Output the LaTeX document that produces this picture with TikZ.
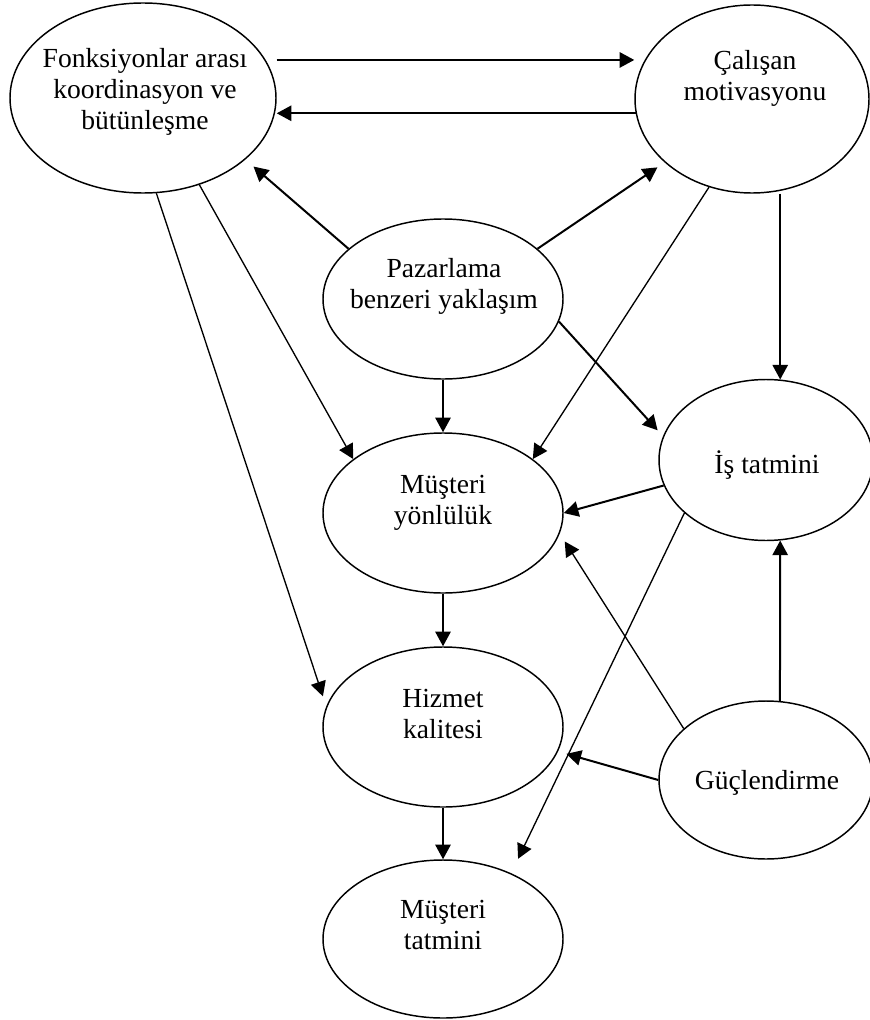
\documentclass[tikz,border=0pt]{standalone}
\usepackage{fontspec}
\setmainfont{Liberation Serif}
\usetikzlibrary{arrows.meta,shapes.geometric}
\begin{document}
\begin{tikzpicture}[x=0.75pt,y=-0.75pt,
  bubble/.style={draw, ellipse, line width=1.1pt, fill=white, inner sep=0pt},
  lbl/.style={align=center, inner sep=0pt, font=\fontsize{20.7}{23.25}\selectfont},
  link/.style={line width=1.5pt, -{Triangle[length=11pt,width=11.5pt]}},
  thinlink/.style={link, line width=1pt},
]
\useasboundingbox (0,0) rectangle (869,1020);

% ellipses
\node[bubble, minimum width=199.5pt, minimum height=142.5pt] (fonk) at (143,98) {};
\node[bubble, minimum width=175.5pt, minimum height=141pt] (cal) at (752,99) {};
\node[bubble, minimum width=180pt, minimum height=120pt] (paz) at (443,299) {};
\node[bubble, minimum width=180pt, minimum height=120pt] (yon) at (443,513) {};
\node[bubble, minimum width=180pt, minimum height=120pt] (hiz) at (443,727) {};
\node[bubble, minimum width=180pt, minimum height=118.5pt] (mt) at (443,939) {};
\node[bubble, minimum width=160.5pt, minimum height=120.75pt] (is) at (766,460) {};
\node[bubble, minimum width=160.5pt, minimum height=118.5pt] (guc) at (766,780) {};

% labels
\node[lbl] (fonkt) at (145,92) {\strut Fonksiyonlar arası\\koordinasyon ve\\bütünleşme\strut};
\node[lbl] (calt) at (755,79) {\strut Çalışan\\motivasyonu\strut};
\node[lbl] (pazt) at (444,287) {\strut Pazarlama\\benzeri yaklaşım\strut};
\node[lbl] (yont) at (443,503) {\strut Müşteri\\yönlülük\strut};
\node[lbl] (hizt) at (443,717) {\strut Hizmet\\kalitesi\strut};
\node[lbl] (mtt) at (443,928) {\strut Müşteri\\tatmini\strut};
\node[lbl] (ist) at (767,467) {\strut İş tatmini};
\node[lbl] (guct) at (767,783) {\strut Güçlendirme};

% connectors
\draw[link] (fonk.east |- cal.160) -- (cal.west |- cal.160);
\draw[link] (cal.187) -- (fonk.east |- cal.187);
\draw[link, shorten >=8pt] (paz.152) -- (fonk.-31.6);
\draw[link, shorten >=6.5pt] (paz.28) -- (cal.216);
\draw[link] (paz.south) -- (yon.north);
\draw[link, shorten >=6pt] (paz.-11) -- (is.167.8);
\draw[thinlink] (cal.244) -- (yon.31);
\draw[link] (cal.south -| is.80.8) -- (is.80.8);
\draw[thinlink] (fonk.-57.5) -- (yon.149);
\draw[thinlink, shorten >=8pt] (fonk.-82) -- (hiz.170.4);
\draw[link] (is.194) -- (yon.east);
\draw[thinlink, shorten >=12pt] (is.213) -- (mt.44);
\draw[link] (yon.south) -- (hiz.north);
\draw[thinlink, shorten >=7pt] (guc.148) -- (yon.-10.3);
\draw[link, shorten >=6.5pt] (guc.west) -- (hiz.-12.7);
\draw[link] (guc.80.6) -- (is.-80.8);
\draw[link] (hiz.south) -- (mt.north);
\end{tikzpicture}
\end{document}
